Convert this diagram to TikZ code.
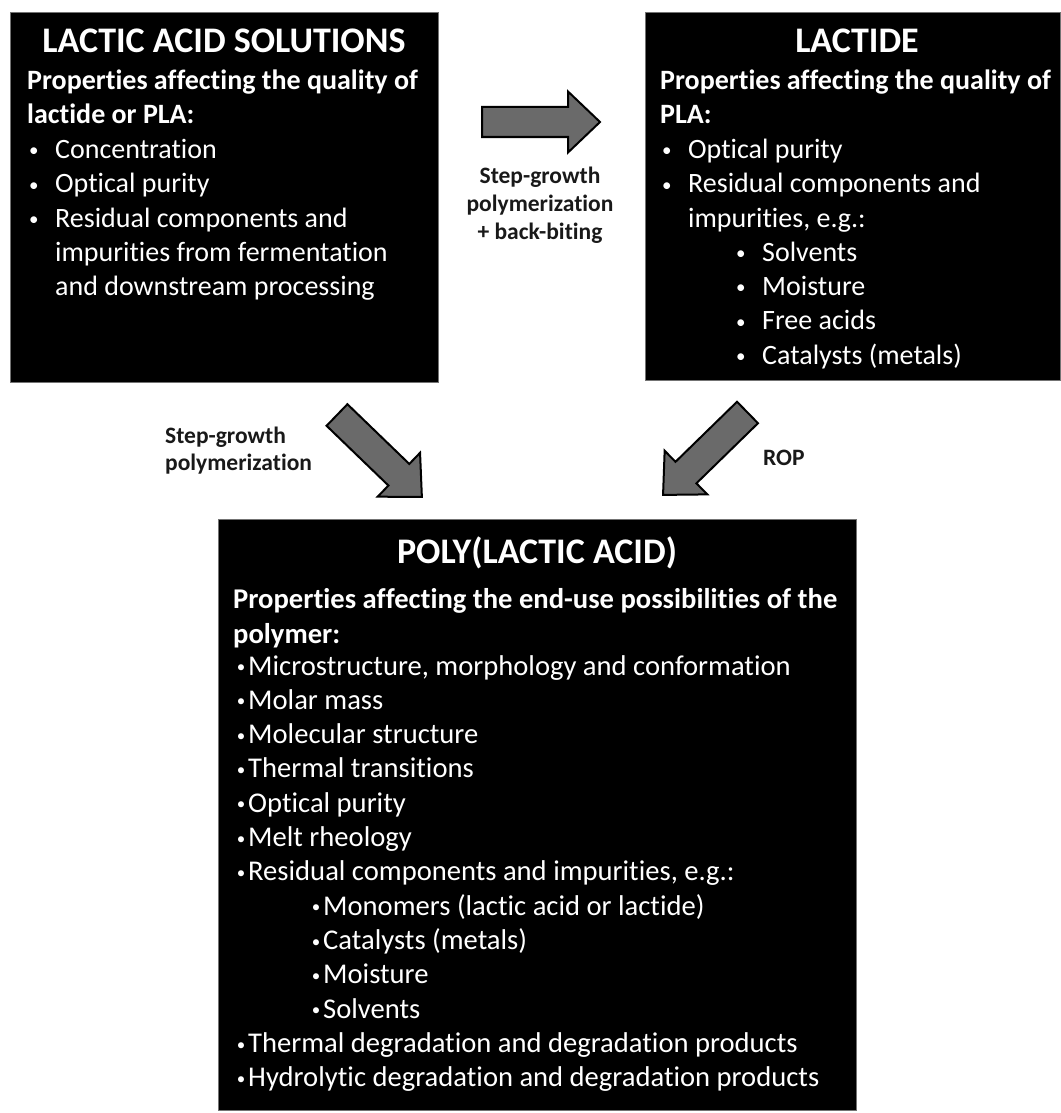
\documentclass[tikz,border=0pt]{standalone}
\usepackage{fontspec}
\setmainfont{Carlito}[Ligatures=NoCommon]
\definecolor{arrowgray}{HTML}{6A6A6A}
\begin{document}
\begin{tikzpicture}[x=1pt,y=-1pt,
  box/.style={fill=black, draw=black!55, line width=0.6pt, inner sep=0, anchor=north west},
  ttl/.style={white, inner sep=0, anchor=base, font=\bfseries\fontsize{36}{44}\selectfont},
  hd/.style={white, inner sep=0, anchor=base west, font=\bfseries\fontsize{28}{34}\selectfont},
  tx/.style={white, inner sep=0, anchor=base west, font=\fontsize{28}{34}\selectfont},
  hdc/.style={hd, font=\bfseries\fontsize{28.6}{34}\selectfont},
  txc/.style={tx, font=\fontsize{28.6}{34}\selectfont},
  bul/.style={white, inner sep=0, anchor=base west, yshift=1.5pt, font=\fontsize{19}{20}\selectfont},
  bulc/.style={white, inner sep=0, anchor=base east, yshift=2.5pt, font=\fontsize{17}{20}\selectfont},
  lbl/.style={black!90, inner sep=0, font=\bfseries\fontsize{23.5}{28}\selectfont},
  blockarrow/.pic={\draw[fill=arrowgray, draw=black, line width=2pt, line join=miter]
     (0,-15)--(86,-15)--(86,-30.5)--(118,0)--(86,30.5)--(86,15)--(0,15)--cycle;}
]
\useasboundingbox[fill=white] (0,0) rectangle (1060,1113);

% ---------- boxes ----------
\node[box, minimum width=428pt, minimum height=370pt] (lasol) at (10,12) {};
\node[box, minimum width=415pt, minimum height=368pt] (lactide) at (645,12) {};
\node[box, minimum width=638pt, minimum height=591pt] (pla) at (218,519) {};

% ---------- box 1 ----------
\node[ttl] (t1) at (224,53) {LACTIC ACID SOLUTIONS};
\node[hd] (h1a) at (27,90) {Properties affecting the quality of};
\node[hd] (h1b) at (27,124) {lactide or PLA:};
\foreach \y [count=\i] in {158,192.5,227}
  \node[bul] (b1\i) at (29,\y) {•};
\node[tx] (l11) at (55,158) {Concentration};
\node[tx] (l12) at (55,192.5) {Optical purity};
\node[tx] (l13) at (55,227) {Residual components and};
\node[tx] (l14) at (55,261) {impurities from fermentation};
\node[tx] (l15) at (55,295) {and downstream processing};

% ---------- box 2 ----------
\node[ttl] (t2) at (857,53) {LACTIDE};
\node[hd] (h2a) at (660,90) {Properties affecting the quality of};
\node[hd] (h2b) at (660,124) {PLA:};
\foreach \y [count=\i] in {158,192.5}
  \node[bul] (b2\i) at (662,\y) {•};
\node[tx] (l21) at (688,158) {Optical purity};
\node[tx] (l22) at (688,192.5) {Residual components and};
\node[tx] (l23) at (688,227) {impurities, e.g.:};
\foreach \y/\t [count=\i] in {261/Solvents, 295/Moisture, 329.5/Free acids, 364/Catalysts (metals)}{
  \node[bul] (s2b\i) at (736,\y) {•};
  \node[tx] (s2\i) at (762,\y) {\t};
}

% ---------- box 3 ----------
\node[ttl] (t3) at (537,563) {POLY(LACTIC ACID)};
\node[hdc] (h3a) at (233,608) {Properties affecting the end-use possibilities of the};
\node[hdc] (h3b) at (233,643) {polymer:};
\foreach \k/\x/\t [count=\i] in {
  0/248/{Microstructure, morphology and conformation},
  1/248/Molar mass,
  2/248/Molecular structure,
  3/248/Thermal transitions,
  4/248/Optical purity,
  5/248/Melt rheology,
  6/248/{Residual components and impurities, e.g.:},
  7/323/{Monomers (lactic acid or lactide)},
  8/323/{Catalysts (metals)},
  9/323/Moisture,
  10/323/Solvents,
  11/248/Thermal degradation and degradation products,
  12/248/Hydrolytic degradation and degradation products}{
  \node[txc] (p3\i) at (\x,675+34.33*\k) {\t};
  \node[bulc] (p3b\i) at ([xshift=-2.5pt]p3\i.base west) {•};
}

% ---------- arrows ----------
\coordinate (a1) at (482,122);
\coordinate (a2) at (337,415);
\coordinate (a3) at (747.5,412.5);
\pic at (a1) {blockarrow};
\pic[rotate=-44] at (a2) {blockarrow};
\pic[rotate=-135.7] at (a3) {blockarrow};

% ---------- labels ----------
\node[lbl, anchor=base] (lb1a) at (540,183) {Step-growth};
\node[lbl, anchor=base] (lb1b) at (540,211) {polymerization};
\node[lbl, anchor=base] (lb1c) at (540,239) {+ back-biting};
\node[lbl, anchor=base west] (lb2a) at (165,443) {Step-growth};
\node[lbl, anchor=base west] (lb2b) at (165,470) {polymerization};
\node[lbl, anchor=base west] (lb3) at (763,465) {ROP};
\end{tikzpicture}
\end{document}
